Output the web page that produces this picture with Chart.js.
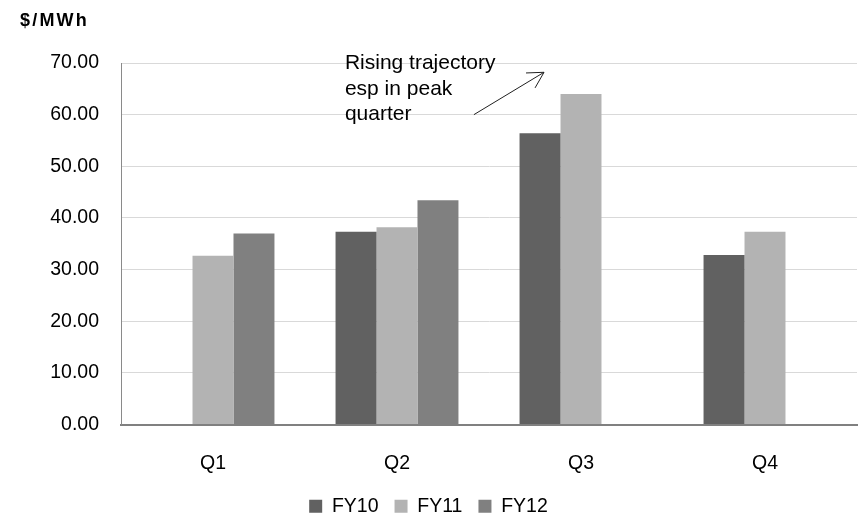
<!DOCTYPE html>
<html>
<head>
<meta charset="utf-8">
<script src="https://cdn.jsdelivr.net/npm/chart.js@4.4.1/dist/chart.umd.min.js"></script>
<style>
  html, body { margin: 0; padding: 0; background: #ffffff; }
  #wrap { width: 858px; height: 520px; position: relative; }
</style>
</head>
<body>
<div id="wrap"><canvas id="c" width="858" height="520"></canvas></div>
<script>
// Quarterly average price, $/MWh
const quarters = ['Q1', 'Q2', 'Q3', 'Q4'];
const fy10 = [null, 37.3, 56.4, 32.8];
const fy11 = [32.7, 38.2, 64.0, 37.3];
const fy12 = [37.0, 43.4, null, null];
const seriesNames = ['FY10', 'FY11', 'FY12'];
const yTicks = [0, 10, 20, 30, 40, 50, 60, 70];
const unitLabel = '$/MWh';
const noteLines = ['Rising trajectory', 'esp in peak', 'quarter'];

const FONT = "'Liberation Sans', Arial, sans-serif";

// Unit label above the value axis
const unitPlugin = {
  id: 'unitLabel',
  afterDraw(chart) {
    const ctx = chart.ctx;
    ctx.save();
    ctx.font = 'bold 18px ' + FONT;
    ctx.fillStyle = '#000000';
    ctx.textAlign = 'left';
    ctx.textBaseline = 'alphabetic';
    if ('letterSpacing' in ctx) ctx.letterSpacing = '2.2px';
    ctx.fillText(unitLabel, 20, 26);
    ctx.restore();
  }
};

// Callout text with an arrow, anchored in scale units
const notePlugin = {
  id: 'note',
  afterDatasetsDraw(chart) {
    const { ctx, scales: { x, y } } = chart;
    ctx.save();
    ctx.font = '21px ' + FONT;
    ctx.fillStyle = '#000000';
    ctx.textAlign = 'left';
    ctx.textBaseline = 'alphabetic';
    const tx = x.getPixelForValue(0.717);
    const ty = y.getPixelForValue(68.8);
    noteLines.forEach((line, i) => ctx.fillText(line, tx, ty + i * 25.5));

    const x0 = x.getPixelForValue(1.418), y0 = y.getPixelForValue(60.0);
    const x1 = x.getPixelForValue(1.799), y1 = y.getPixelForValue(68.2);
    ctx.strokeStyle = '#202020';
    ctx.lineWidth = 1;
    ctx.beginPath();
    ctx.moveTo(x0, y0);
    ctx.lineTo(x1, y1);
    const ang = Math.atan2(y1 - y0, x1 - x0);
    const len = 18, spread = 29 * Math.PI / 180;
    ctx.moveTo(x1 + len * Math.cos(ang + Math.PI - spread), y1 + len * Math.sin(ang + Math.PI - spread));
    ctx.lineTo(x1, y1);
    ctx.lineTo(x1 + len * Math.cos(ang + Math.PI + spread), y1 + len * Math.sin(ang + Math.PI + spread));
    ctx.stroke();
    ctx.restore();
  }
};

const colors = ['#616161', '#b3b3b3', '#808080'];

new Chart(document.getElementById('c'), {
  type: 'bar',
  data: {
    labels: quarters,
    datasets: [fy10, fy11, fy12].map((d, i) => ({
      label: seriesNames[i],
      data: d,
      backgroundColor: colors[i],
      borderWidth: 0,
      barPercentage: 1.0,
      categoryPercentage: 0.668
    }))
  },
  options: {
    responsive: false,
    animation: false,
    devicePixelRatio: 1,
    layout: { padding: { top: 63, right: 1, left: 0, bottom: -6 } },
    plugins: {
      title: { display: false },
      tooltip: { enabled: false },
      legend: {
        display: true,
        position: 'bottom',
        labels: {
          font: { family: FONT, size: 19.5 },
          color: '#000000',
          boxWidth: 13,
          boxHeight: 13,
          padding: 16
        }
      }
    },
    scales: {
      x: {
        grid: { display: false, drawTicks: false },
        border: { display: true, color: '#808080', width: 2 },
        ticks: {
          font: { family: FONT, size: 19.5 },
          color: '#000000',
          padding: 27,
          maxRotation: 0
        },
        afterFit(scale) { scale.height = 56; }
      },
      y: {
        min: 0,
        max: 70,
        afterBuildTicks(scale) { scale.ticks = yTicks.map(v => ({ value: v })); },
        grid: { color: '#d9d9d9', lineWidth: 1, drawTicks: false },
        border: { display: true, color: '#8a8a8a', width: 1 },
        ticks: {
          font: { family: FONT, size: 19.5 },
          color: '#000000',
          padding: 22,
          callback: v => Number(v).toFixed(2)
        },
        afterFit(scale) { scale.width = 121; }
      }
    }
  },
  plugins: [unitPlugin, notePlugin]
});
</script>
</body>
</html>
